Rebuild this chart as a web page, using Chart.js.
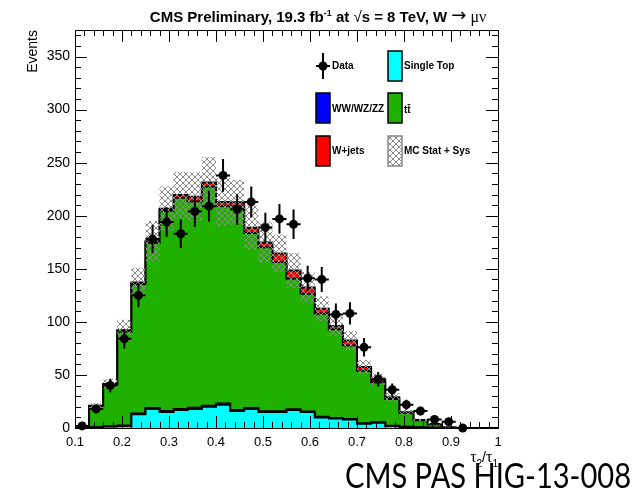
<!DOCTYPE html>
<html>
<head>
<meta charset="utf-8">
<title>tau2/tau1</title>
<script src="https://cdn.jsdelivr.net/npm/chart.js@4.4.0/dist/chart.umd.min.js"></script>
<style>
  html, body { margin: 0; padding: 0; background: #fff; }
  canvas { display: block; }
</style>
</head>
<body>
<canvas id="mainChart" width="634" height="492"></canvas>
<script>
// -- Histogram binning (tau2/tau1, 30 bins of 0.03) --
const binEdges = [0.10, 0.13, 0.16, 0.19, 0.22, 0.25, 0.28, 0.31, 0.34, 0.37, 0.40,
  0.43, 0.46, 0.49, 0.52, 0.55, 0.58, 0.61, 0.64, 0.67, 0.70,
  0.73, 0.76, 0.79, 0.82, 0.85, 0.88, 0.91, 0.94, 0.97, 1.00];

// -- MC components, bottom of the stack first --
const singleTop = [0.5, 0.6, 1.5, 2, 13, 18, 15, 17, 18, 20, 22, 16, 18, 15, 15,
  17, 15, 10, 9, 8, 4, 5, 2, 1, 0.5, 0.2, 0, 0, 0, 0];
const dibosons = [0, 0.1, 0.2, 0.3, 0.6, 0.8, 0.9, 1, 1, 1, 1, 0.9, 0.9, 0.8, 0.8,
  0.7, 0.6, 0.5, 0.5, 0.4, 0.3, 0.3, 0.2, 0.1, 0.1, 0, 0, 0, 0, 0];
const ttbar = [1.4, 20, 39.3, 88.7, 122, 155.7, 188.7, 199, 194.5, 206.4, 186.5, 191.7, 164.8, 154.5, 140.7,
  123.2, 110.8, 97.3, 83.5, 69.3, 49.7, 37.8, 25.2, 13.2, 6.6, 3.4, 0.4, 0, 0, 0];
const wJets = [0.1, 0.3, 0.5, 1, 1.5, 1.5, 2, 2.5, 4.5, 4, 3.5, 4, 5, 4.5, 8,
  7.5, 6, 4.5, 3.2, 4.7, 3.5, 2.8, 1.6, 0.5, 0.3, 0.2, 0.1, 0, 0, 0];

// -- MC stat + sys uncertainty (absolute, per bin) --
const mcUncert = [0.3, 2.5, 4.5, 10, 14, 19, 21, 22, 23, 24, 22.5, 21, 21, 19, 17.5,
  16.4, 14.5, 11.6, 9.5, 9, 6.5, 5.2, 4, 2.2, 1.2, 0.6, 0.2, 0, 0, 0];

// -- Observed data and its error --
const dataCounts = [2, 18, 40, 84, 125, 178, 194, 183, 204, 209, 238, 206, 213, 189, 197,
  192, 141, 140, 107, 108, 76, 46, 36, 22, 16, 8, 6, 0, null, null];
const dataErr = [1.4, 4.2, 6.3, 9.2, 11.2, 13.3, 13.9, 13.5, 14.3, 14.5, 15.4, 14.4, 14.6, 13.7, 14,
  13.9, 11.9, 11.8, 10.3, 10.4, 8.7, 6.8, 6, 4.7, 4, 2.8, 2.4, 0, null, null];

// -- Axis ticks --
const xTickValues = [0.1, 0.2, 0.3, 0.4, 0.5, 0.6, 0.7, 0.8, 0.9, 1.0];
const yTickValues = [0, 50, 100, 150, 200, 250, 300, 350];

const AXIS_FONT = "'Liberation Sans', Arial, sans-serif";
const COLORS = {
  singleTop: "#00ffff",
  dibosons: "#0000ff",
  ttbar: "#20b000",
  wJets: "#ff0000",
};

// running sum of several components, bin by bin
function cumulate(...parts) {
  return parts[0].map((_, i) => parts.reduce((s, p) => s + p[i], 0));
}

// step histogram points: one point per edge, last edge repeats last bin
function stepPoints(vals) {
  return binEdges.map((x, i) => ({ x: x, y: vals[Math.min(i, vals.length - 1)] }));
}

const stTop = singleTop;
const vvTop = cumulate(singleTop, dibosons);
const ttTop = cumulate(singleTop, dibosons, ttbar);
const mcTotal = cumulate(singleTop, dibosons, ttbar, wJets);
const bandUp = mcTotal.map((v, i) => v + mcUncert[i]);
const bandLo = mcTotal.map((v, i) => Math.max(0, v - mcUncert[i]));

const dataPoints = [];
dataCounts.forEach((y, i) => {
  if (y !== null) dataPoints.push({ x: (binEdges[i] + binEdges[i + 1]) / 2, y: y });
});

// -- Cross hatch used for the MC uncertainty band --
function makeHatch(ctx) {
  const c = document.createElement("canvas");
  c.width = 6;
  c.height = 6;
  const g = c.getContext("2d");
  g.strokeStyle = "#8a8a8a";
  g.lineWidth = 1;
  g.beginPath();
  g.moveTo(-1, 7);
  g.lineTo(7, -1);
  g.moveTo(-1, -1);
  g.lineTo(7, 7);
  g.stroke();
  return ctx.createPattern(c, "repeat");
}

function stackLayer(label, vals, color, order) {
  return {
    label: label,
    data: stepPoints(vals),
    stepped: "before",
    fill: "origin",
    backgroundColor: color,
    borderColor: "#000",
    borderWidth: 2,
    pointRadius: 0,
    order: order,
  };
}

// -- Error bars, frame and inner ticks (ROOT style) --
const rootFramePlugin = {
  id: "rootFrame",
  afterDatasetsDraw(chart) {
    const ctx = chart.ctx;
    const xs = chart.scales.x;
    const ys = chart.scales.y;
    const { left, right, top, bottom } = chart.chartArea;

    // data error bars: full bin width horizontally, +-err vertically
    ctx.save();
    ctx.strokeStyle = "#000";
    ctx.lineWidth = 2;
    ctx.beginPath();
    dataCounts.forEach((y, i) => {
      if (y === null) return;
      const py = ys.getPixelForValue(y);
      ctx.moveTo(xs.getPixelForValue(binEdges[i]), py);
      ctx.lineTo(xs.getPixelForValue(binEdges[i + 1]), py);
      const cx = xs.getPixelForValue((binEdges[i] + binEdges[i + 1]) / 2);
      ctx.moveTo(cx, ys.getPixelForValue(Math.max(0, y - dataErr[i])));
      ctx.lineTo(cx, ys.getPixelForValue(y + dataErr[i]));
    });
    ctx.stroke();

    // frame
    ctx.lineWidth = 1;
    ctx.strokeRect(Math.round(left) + 0.5, Math.round(top) + 0.5,
      Math.round(right - left), Math.round(bottom - top));

    // inner ticks, x: major every 0.1, minor every 0.02
    ctx.beginPath();
    for (let k = 0; k <= 45; k++) {
      const px = Math.round(xs.getPixelForValue(0.1 + k * 0.02)) + 0.5;
      const len = k % 5 === 0 ? 12 : 6;
      ctx.moveTo(px, bottom);
      ctx.lineTo(px, bottom - len);
      ctx.moveTo(px, top);
      ctx.lineTo(px, top + len);
    }
    // y: major every 50, minor every 10
    for (let k = 0; k * 10 <= ys.max; k++) {
      const py = Math.round(ys.getPixelForValue(k * 10)) + 0.5;
      const len = k % 5 === 0 ? 12 : 6;
      ctx.moveTo(left, py);
      ctx.lineTo(left + len, py);
      ctx.moveTo(right, py);
      ctx.lineTo(right - len, py);
    }
    ctx.stroke();
    ctx.restore();
  },
  afterDraw(chart) {
    const ctx = chart.ctx;
    ctx.save();
    drawTitle(ctx);
    drawAxisTitles(ctx);
    drawLegend(ctx, chart.$hatch);
    drawFooter(ctx);
    ctx.restore();
  },
};

// draw a row of [text, font, dy] pieces, centred on cx
function drawPieces(ctx, pieces, cx, baseline) {
  let total = 0;
  pieces.forEach((p) => {
    ctx.font = p[1];
    total += ctx.measureText(p[0]).width;
  });
  let x = cx - total / 2;
  ctx.textAlign = "left";
  ctx.textBaseline = "alphabetic";
  pieces.forEach((p) => {
    ctx.font = p[1];
    ctx.fillText(p[0], x, baseline + (p[2] || 0));
    x += ctx.measureText(p[0]).width;
  });
  return total;
}

function drawTitle(ctx) {
  const B = "bold 15px " + AXIS_FONT;
  ctx.fillStyle = "#000";
  drawPieces(ctx, [
    ["CMS Preliminary, 19.3 fb", B],
    ["-1", "bold 9px " + AXIS_FONT, -6],
    [" at ", B],
    ["\u221A", "15px " + AXIS_FONT],
    ["s = 8 TeV, W ", B],
    ["\u2192", "18px 'DejaVu Sans', sans-serif", -1],
    [" \u03BC\u03BD", "16px 'Liberation Serif', serif"],
  ], 318, 22);
}

function drawAxisTitles(ctx) {
  ctx.fillStyle = "#000";
  // y title, right aligned to the top of the axis
  ctx.save();
  ctx.translate(37, 30);
  ctx.rotate(-Math.PI / 2);
  ctx.font = "14px " + AXIS_FONT;
  ctx.textAlign = "right";
  ctx.textBaseline = "alphabetic";
  ctx.fillText("Events", 0, 0);
  ctx.restore();

  // x title tau2/tau1, right aligned to the end of the axis
  const tau = "16px 'Liberation Serif', serif";
  const sub = "10px " + AXIS_FONT;
  const pieces = [["\u03C4", tau, 0], ["2", sub, 5], ["/", "14px " + AXIS_FONT, 0], ["\u03C4", tau, 0], ["1", sub, 5]];
  let w = 0;
  pieces.forEach((p) => { ctx.font = p[1]; w += ctx.measureText(p[0]).width; });
  drawPieces(ctx, pieces, 498 - w / 2, 462);
}

function legendBox(ctx, x, y, fill, stroke) {
  ctx.fillStyle = "#fff";
  ctx.fillRect(x, y, 14, 30);
  ctx.fillStyle = fill;
  ctx.fillRect(x, y, 14, 30);
  ctx.strokeStyle = stroke;
  ctx.lineWidth = 1.5;
  ctx.strokeRect(x, y, 14, 30);
}

function drawLegend(ctx, hatch) {
  const col1 = 316, col2 = 388;
  const rows = [51, 93, 136];

  // data marker
  ctx.strokeStyle = "#000";
  ctx.lineWidth = 2;
  ctx.beginPath();
  ctx.moveTo(col1 + 7, rows[0] + 2);
  ctx.lineTo(col1 + 7, rows[0] + 28);
  ctx.moveTo(col1, rows[0] + 15);
  ctx.lineTo(col1 + 14, rows[0] + 15);
  ctx.stroke();
  ctx.fillStyle = "#000";
  ctx.beginPath();
  ctx.arc(col1 + 7, rows[0] + 15, 4.5, 0, Math.PI * 2);
  ctx.fill();

  legendBox(ctx, col1, rows[1], COLORS.dibosons, "#000");
  legendBox(ctx, col1, rows[2], COLORS.wJets, "#000");
  legendBox(ctx, col2, rows[0], COLORS.singleTop, "#000");
  legendBox(ctx, col2, rows[1], COLORS.ttbar, "#000");
  legendBox(ctx, col2, rows[2], hatch, "#888");

  ctx.fillStyle = "#000";
  ctx.font = "bold 10px " + AXIS_FONT;
  ctx.textAlign = "left";
  ctx.textBaseline = "middle";
  ctx.fillText("Data", col1 + 16, rows[0] + 15);
  ctx.fillText("WW/WZ/ZZ", col1 + 16, rows[1] + 16);
  ctx.fillText("W+jets", col1 + 16, rows[2] + 15);
  ctx.fillText("Single Top", col2 + 16, rows[0] + 15);
  ctx.fillText("tt\u0304", col2 + 16, rows[1] + 17);
  ctx.fillText("MC Stat + Sys", col2 + 16, rows[2] + 15);
}

function drawFooter(ctx) {
  const label = "CMS PAS HIG-13-008";
  ctx.fillStyle = "#000";
  ctx.font = "35px Lato, 'Open Sans', sans-serif";
  ctx.textAlign = "left";
  ctx.textBaseline = "alphabetic";
  const w = ctx.measureText(label).width;
  ctx.save();
  ctx.translate(345, 488);
  ctx.scale(286 / w, 1);
  ctx.fillText(label, 0, 0);
  ctx.restore();
}

// --- Build the chart ---
const ctx = document.getElementById("mainChart").getContext("2d");
const hatch = makeHatch(ctx);

const chart = new Chart(ctx, {
  type: "line",
  data: {
    datasets: [
      {
        label: "Data",
        data: dataPoints,
        showLine: false,
        pointRadius: 4.5,
        pointBackgroundColor: "#000",
        pointBorderWidth: 0,
        clip: false,
        order: 1,
      },
      {
        label: "MC Stat + Sys",
        data: stepPoints(bandUp),
        stepped: "before",
        fill: "+1",
        backgroundColor: hatch,
        borderWidth: 0,
        pointRadius: 0,
        order: 2,
      },
      {
        label: "band low",
        data: stepPoints(bandLo),
        stepped: "before",
        fill: false,
        borderWidth: 0,
        pointRadius: 0,
        order: 3,
      },
      stackLayer("Single Top", stTop, COLORS.singleTop, 4),
      stackLayer("WW/WZ/ZZ", vvTop, COLORS.dibosons, 5),
      stackLayer("tt", ttTop, COLORS.ttbar, 6),
      stackLayer("W+jets", mcTotal, COLORS.wJets, 7),
    ],
  },
  options: {
    responsive: false,
    animation: false,
    devicePixelRatio: 1,
    layout: { padding: { top: 30, right: 136, left: 0, bottom: 0 } },
    plugins: {
      legend: { display: false },
      title: { display: false },
      tooltip: { enabled: false },
    },
    scales: {
      x: {
        type: "linear",
        min: 0.1,
        max: 1.0,
        afterFit: (s) => { s.height = 64; },
        afterBuildTicks: (s) => { s.ticks = xTickValues.map((v) => ({ value: v })); },
        grid: { display: false, drawTicks: false },
        border: { display: false },
        ticks: {
          autoSkip: false,
          maxRotation: 0,
          padding: 7,
          color: "#000",
          font: { family: AXIS_FONT, size: 13 },
          callback: (v) => String(Number(v.toFixed(1))),
        },
      },
      y: {
        type: "linear",
        min: 0,
        max: 375,
        afterFit: (s) => { s.width = 75; },
        afterBuildTicks: (s) => { s.ticks = yTickValues.map((v) => ({ value: v })); },
        grid: { display: false, drawTicks: false },
        border: { display: false },
        ticks: {
          padding: 5,
          color: "#000",
          font: { family: AXIS_FONT, size: 14 },
        },
      },
    },
  },
  plugins: [rootFramePlugin],
});
chart.$hatch = hatch;
chart.draw();
</script>
</body>
</html>
